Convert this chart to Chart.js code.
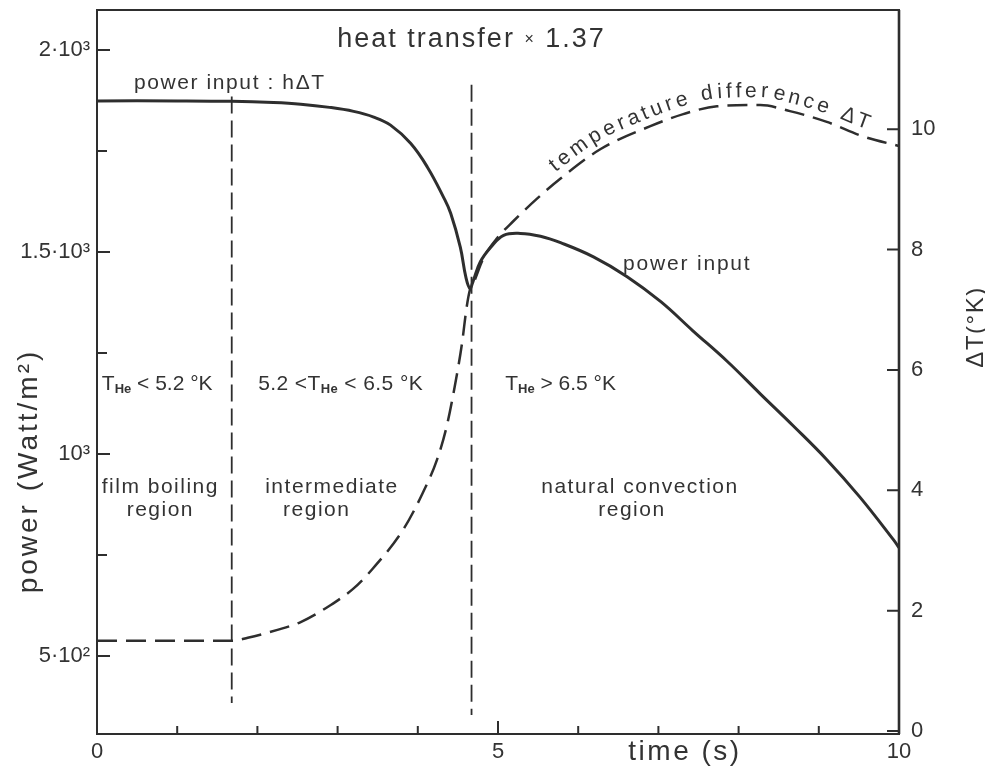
<!DOCTYPE html>
<html>
<head>
<meta charset="utf-8">
<title>Heat transfer</title>
<script src="https://cdn.jsdelivr.net/npm/chart.js@4.4.1/dist/chart.umd.min.js"></script>
<style>
  html, body { margin: 0; padding: 0; background: #fff; }
  canvas { display: block; }
</style>
</head>
<body>
<canvas id="heatChart" width="985" height="770"></canvas>
<script>
// power input (Watt/m2) over time (s)
const powerTime = [0, 1.0, 1.68, 2.2, 2.54, 2.9, 3.2, 3.45, 3.66, 3.91, 4.12, 4.32, 4.41, 4.53, 4.60, 4.65, 4.69, 4.78, 4.91, 5.07, 5.28, 5.53, 5.78, 6.19, 6.61, 7.03, 7.43, 7.86, 8.27, 8.68, 9.10, 9.51, 9.93, 10.0];
const powerInput = [1874, 1874, 1873, 1870, 1866, 1858, 1848, 1834, 1814, 1769, 1710, 1636, 1596, 1512, 1437, 1410, 1428, 1476, 1512, 1541, 1546, 1539, 1523, 1488, 1439, 1377, 1305, 1229, 1149, 1070, 986, 894, 788, 768];

// temperature difference dT (K) over time (s)
const tempTime = [0, 1.68, 1.88, 2.25, 2.54, 2.91, 3.20, 3.44, 3.82, 4.06, 4.24, 4.36, 4.46, 4.55, 4.61, 4.65, 4.69, 4.82, 4.99, 5.19, 5.49, 5.78, 6.28, 6.90, 7.31, 7.73, 8.27, 8.64, 9.10, 9.55, 10.0];
const tempDiff = [1.50, 1.50, 1.55, 1.68, 1.81, 2.09, 2.37, 2.70, 3.35, 3.95, 4.51, 5.06, 5.72, 6.43, 7.05, 7.33, 7.43, 7.86, 8.19, 8.47, 8.85, 9.18, 9.67, 10.05, 10.25, 10.38, 10.40, 10.30, 10.12, 9.88, 9.72];

// region boundaries (time) and the power range each dashed marker spans
const boundaryTime = [1.68, 4.67];
const boundaryTop = [1885, 1914];
const boundaryBottom = [384, 354];

// axis ticks
const xTickValues = [0, 1, 2, 3, 4, 5, 6, 7, 8, 9, 10];
const xTickLabels = ['0', '', '', '', '', '5', '', '', '', '', '10'];
const powerTickValues = [500, 750, 1000, 1250, 1500, 1750, 2000];
const powerTickLabels = ['5·10²', '', '10³', '', '1.5·10³', '', '2·10³'];
const tempTickValues = [0, 2, 4, 6, 8, 10];
const tempTickLabels = ['0', '2', '4', '6', '8', '10'];

const FONT = "'Liberation Sans', Arial, sans-serif";
const INK = '#333333';
const LINE = '#2e2e2e';

const toPoints = (xs, ys) => xs.map((x, i) => ({ x: x, y: ys[i] }));

const boundarySets = boundaryTime.map((t, i) => ({
    data: [{ x: t, y: boundaryTop[i] }, { x: t, y: boundaryBottom[i] }],
    yAxisID: 'y',
    borderColor: LINE,
    borderWidth: 1.8,
    borderDash: [17, 7],
    pointRadius: 0,
    tension: 0
}));

// draws a row of text pieces (used for the T_He subscripts)
function drawRuns(ctx, x, y, runs, spacing, align) {
    const fontOf = r => `${r.bold ? 'bold ' : ''}${r.size}px ${FONT}`;
    ctx.letterSpacing = spacing + 'px';
    let total = 0;
    runs.forEach(r => { ctx.font = fontOf(r); total += ctx.measureText(r.t).width; });
    let cx = align === 'center' ? x - total / 2 : x;
    ctx.textAlign = 'left';
    ctx.textBaseline = 'middle';
    runs.forEach(r => {
        ctx.font = fontOf(r);
        ctx.fillText(r.t, cx, y + (r.dy || 0));
        cx += ctx.measureText(r.t).width;
    });
    ctx.letterSpacing = '0px';
}

function text(ctx, str, x, y, size, spacing, align) {
    drawRuns(ctx, x, y, [{ t: str, size: size }], spacing, align);
}

// sample the rendered bezier of a line dataset into a polyline
function sampleCurve(meta) {
    const els = meta.data;
    const pts = [];
    for (let i = 0; i < els.length - 1; i++) {
        const a = els[i], b = els[i + 1];
        const c1x = a.cp2x ?? a.x, c1y = a.cp2y ?? a.y;
        const c2x = b.cp1x ?? b.x, c2y = b.cp1y ?? b.y;
        for (let k = 0; k < 16; k++) {
            const u = k / 16, v = 1 - u;
            pts.push({
                x: v * v * v * a.x + 3 * v * v * u * c1x + 3 * v * u * u * c2x + u * u * u * b.x,
                y: v * v * v * a.y + 3 * v * v * u * c1y + 3 * v * u * u * c2y + u * u * u * b.y
            });
        }
    }
    const last = els[els.length - 1];
    pts.push({ x: last.x, y: last.y });
    let s = 0;
    pts.forEach((p, i) => {
        if (i > 0) s += Math.hypot(p.x - pts[i - 1].x, p.y - pts[i - 1].y);
        p.s = s;
    });
    return pts;
}

function pointAt(pts, s) {
    let i = 1;
    while (i < pts.length - 1 && pts[i].s < s) i++;
    const a = pts[i - 1], b = pts[i];
    const f = (s - a.s) / ((b.s - a.s) || 1);
    return {
        x: a.x + (b.x - a.x) * f,
        y: a.y + (b.y - a.y) * f,
        angle: Math.atan2(b.y - a.y, b.x - a.x)
    };
}

function arcAtX(pts, x) {
    for (let i = 1; i < pts.length; i++) {
        if (pts[i].x >= x) {
            const a = pts[i - 1], b = pts[i];
            return a.s + (b.s - a.s) * (x - a.x) / ((b.x - a.x) || 1);
        }
    }
    return pts[pts.length - 1].s;
}

// lettering that follows the dT curve
function textOnCurve(ctx, pts, str, fromX, toX, size, lift) {
    ctx.font = `${size}px ${FONT}`;
    const s0 = arcAtX(pts, fromX), s1 = arcAtX(pts, toX);
    const chars = [...str];
    const widths = chars.map(c => ctx.measureText(c).width);
    const sum = widths.reduce((a, b) => a + b, 0);
    const gap = (s1 - s0 - sum) / (chars.length - 1);
    let s = s0;
    ctx.textAlign = 'center';
    ctx.textBaseline = 'alphabetic';
    chars.forEach((c, i) => {
        const p = pointAt(pts, s + widths[i] / 2);
        ctx.save();
        ctx.translate(p.x + Math.sin(p.angle) * lift, p.y - Math.cos(p.angle) * lift);
        ctx.rotate(p.angle);
        ctx.fillText(c, 0, 0);
        ctx.restore();
        s += widths[i] + gap;
    });
}

const decorPlugin = {
    id: 'decor',
    afterDraw(chart) {
        const { ctx, chartArea: area, scales } = chart;
        const xs = scales.x, yl = scales.y, yr = scales.y1;
        ctx.save();
        ctx.strokeStyle = LINE;
        ctx.fillStyle = INK;

        // frame
        ctx.lineWidth = 2;
        ctx.strokeRect(area.left, area.top, area.right - area.left, area.bottom - area.top);
        ctx.lineWidth = 2.6;
        ctx.beginPath();
        ctx.moveTo(area.right, area.top);
        ctx.lineTo(area.right, area.bottom);
        ctx.stroke();

        // inward tick marks
        ctx.lineWidth = 2;
        ctx.beginPath();
        yl.ticks.forEach((t, i) => {
            const py = yl.getPixelForValue(t.value);
            ctx.moveTo(area.left, py);
            ctx.lineTo(area.left + (powerTickLabels[i] ? 13 : 10), py);
        });
        yr.ticks.forEach(t => {
            const py = yr.getPixelForValue(t.value);
            ctx.moveTo(area.right, py);
            ctx.lineTo(area.right - 12, py);
        });
        xs.ticks.forEach((t, i) => {
            const px = xs.getPixelForValue(t.value);
            ctx.moveTo(px, area.bottom);
            ctx.lineTo(px, area.bottom - (xTickLabels[i] ? 13 : 8));
        });
        ctx.stroke();

        // axis titles
        ctx.save();
        ctx.translate(29, 471);
        ctx.rotate(-Math.PI / 2);
        text(ctx, 'power (Watt/m²)', 0, 0, 28, 3, 'center');
        ctx.restore();
        ctx.save();
        ctx.translate(976, 327);
        ctx.rotate(-Math.PI / 2);
        text(ctx, 'ΔT(°K)', 0, 0, 24, 1.5, 'center');
        ctx.restore();
        text(ctx, 'time (s)', 685, 752, 28, 2.5, 'center');

        const X = v => xs.getPixelForValue(v);
        const Y = v => yl.getPixelForValue(v);

        // heading and curve labels
        drawRuns(ctx, X(4.67), Y(2026), [
            { t: 'heat transfer ', size: 27 },
            { t: '×', size: 16 },
            { t: ' 1.37', size: 27 }
        ], 2, 'center');
        text(ctx, 'power input : hΔT', X(0.46), Y(1917), 21, 1.6, 'left');
        text(ctx, 'power input', X(6.56), Y(1469), 21, 1.8, 'left');

        // helium temperature ranges
        const sub = { t: 'He', size: 13, bold: true, dy: 5 };
        drawRuns(ctx, X(0.06), Y(1172), [{ t: 'T', size: 21 }, sub, { t: ' < 5.2 °K', size: 21 }], 0, 'left');
        drawRuns(ctx, X(2.01), Y(1172), [{ t: '5.2 <T', size: 21 }, sub, { t: ' < 6.5 °K', size: 21 }], 0.4, 'left');
        drawRuns(ctx, X(5.09), Y(1172), [{ t: 'T', size: 21 }, sub, { t: ' > 6.5 °K', size: 21 }], 0, 'left');

        // region names
        text(ctx, 'film boiling', X(0.79), Y(918), 21, 1.5, 'center');
        text(ctx, 'region', X(0.79), Y(861), 21, 1.5, 'center');
        text(ctx, 'intermediate', X(2.93), Y(918), 21, 1.5, 'center');
        text(ctx, 'region', X(2.74), Y(861), 21, 1.5, 'center');
        text(ctx, 'natural convection', X(6.77), Y(918), 21, 1.5, 'center');
        text(ctx, 'region', X(6.67), Y(861), 21, 1.5, 'center');

        // dT label riding on its curve
        const pts = sampleCurve(chart.getDatasetMeta(1));
        textOnCurve(ctx, pts, 'temperature difference ΔT', X(5.78), X(9.57), 21, 8);

        ctx.restore();
    }
};

const tickFont = { family: FONT, size: 22 };

new Chart(document.getElementById('heatChart'), {
    type: 'line',
    data: {
        datasets: [
            {
                label: 'power input',
                data: toPoints(powerTime, powerInput),
                yAxisID: 'y',
                borderColor: LINE,
                borderWidth: 3,
                pointRadius: 0,
                tension: 0.4
            },
            {
                label: 'temperature difference',
                data: toPoints(tempTime, tempDiff),
                yAxisID: 'y1',
                borderColor: LINE,
                borderWidth: 2.5,
                borderDash: [20, 9],
                pointRadius: 0,
                cubicInterpolationMode: 'monotone'
            },
            ...boundarySets
        ]
    },
    options: {
        responsive: false,
        animation: false,
        layout: { padding: { top: 10, left: 0, right: 0, bottom: 0 } },
        plugins: {
            legend: { display: false },
            tooltip: { enabled: false }
        },
        scales: {
            x: {
                type: 'linear',
                min: 0,
                max: 10,
                afterFit: s => { s.height = 36; s.paddingLeft = 0; s.paddingRight = 0; },
                afterBuildTicks: s => { s.ticks = xTickValues.map(v => ({ value: v })); },
                grid: { display: false, drawTicks: false },
                border: { display: false },
                ticks: {
                    autoSkip: false,
                    maxRotation: 0,
                    padding: 5,
                    color: INK,
                    font: tickFont,
                    callback: (v, i) => xTickLabels[i]
                }
            },
            y: {
                position: 'left',
                min: 307,
                max: 2099,
                afterFit: s => { s.width = 97; s.paddingTop = 0; s.paddingBottom = 0; },
                afterBuildTicks: s => { s.ticks = powerTickValues.map(v => ({ value: v })); },
                grid: { display: false, drawTicks: false },
                border: { display: false },
                ticks: {
                    padding: 7,
                    color: INK,
                    font: tickFont,
                    callback: (v, i) => powerTickLabels[i]
                }
            },
            y1: {
                position: 'right',
                min: -0.05,
                max: 11.98,
                afterFit: s => { s.width = 86; s.paddingTop = 0; s.paddingBottom = 0; },
                afterBuildTicks: s => { s.ticks = tempTickValues.map(v => ({ value: v })); },
                grid: { display: false, drawTicks: false },
                border: { display: false },
                ticks: {
                    padding: 12,
                    color: INK,
                    font: tickFont,
                    callback: (v, i) => tempTickLabels[i]
                }
            }
        }
    },
    plugins: [decorPlugin]
});
</script>
</body>
</html>
